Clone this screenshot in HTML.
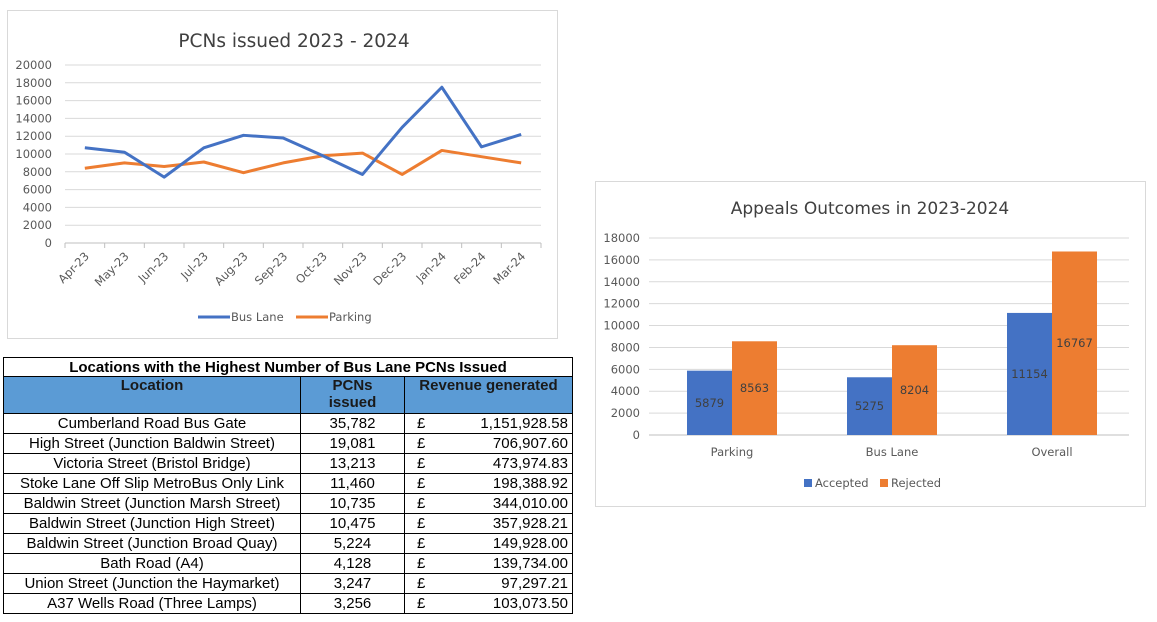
<!DOCTYPE html>
<html><head><meta charset="utf-8"><style>
body{margin:0;width:1157px;height:622px;background:#fff;position:relative;overflow:hidden;font-family:"Liberation Sans",sans-serif}
svg text{font-family:"DejaVu Sans","Liberation Sans",sans-serif}
table{position:absolute;left:3px;top:357px;width:570px;border-collapse:collapse;font-size:15px;color:#000}
td,th{border:1.5px solid #000;padding:0 4px;height:18.4px;line-height:17px}
td{height:19px}
th{font-weight:bold}
.hd th{background:#5b9bd5;color:#1a1a1a;vertical-align:top;line-height:17px}
.c{text-align:center}.r{text-align:right}
</style></head><body>
<svg id="lc" width="1157" height="622" style="position:absolute;left:0;top:0">
<rect x="7.5" y="10.5" width="550" height="328" fill="#fff" stroke="#d9d9d9"/>
<text x="294" y="47" font-size="18.5" fill="#404040" text-anchor="middle">PCNs issued 2023 - 2024</text>
<rect x="595.5" y="181.5" width="550" height="325" fill="#fff" stroke="#d9d9d9"/>
<text x="870" y="214" font-size="17" fill="#404040" text-anchor="middle">Appeals Outcomes in 2023-2024</text>
</svg>
<table>
<tr><th colspan="3" class="c">Locations with the Highest Number of Bus Lane PCNs Issued</th></tr>
<tr class="hd" style="height:37px"><th style="width:288px">Location</th><th style="width:95px">PCNs<br>issued</th><th>Revenue generated</th></tr>
<tbody id="tb"></tbody>
</table>
<script>
const months=["Apr-23","May-23","Jun-23","Jul-23","Aug-23","Sep-23","Oct-23","Nov-23","Dec-23","Jan-24","Feb-24","Mar-24"];
const busLane=[10700,10200,7400,10700,12100,11800,9800,7700,13000,17500,10800,12200];
const parking=[8400,9000,8600,9100,7900,9000,9800,10100,7700,10400,9700,9000];
const lineTicks=[0,2000,4000,6000,8000,10000,12000,14000,16000,18000,20000];
const barCats=["Parking","Bus Lane","Overall"];
const accepted=[5879,5275,11154];
const rejected=[8563,8204,16767];
const barTicks=[0,2000,4000,6000,8000,10000,12000,14000,16000,18000];
const locs=["Cumberland Road Bus Gate","High Street (Junction Baldwin Street)","Victoria Street (Bristol Bridge)","Stoke Lane Off Slip MetroBus Only Link","Baldwin Street (Junction Marsh Street)","Baldwin Street (Junction High Street)","Baldwin Street (Junction Broad Quay)","Bath Road (A4)","Union Street (Junction the Haymarket)","A37 Wells Road (Three Lamps)"];
const pcns=["35,782","19,081","13,213","11,460","10,735","10,475","5,224","4,128","3,247","3,256"];
const revenue=["1,151,928.58","706,907.60","473,974.83","198,388.92","344,010.00","357,928.21","149,928.00","139,734.00","97,297.21","103,073.50"];

const NS="http://www.w3.org/2000/svg";
const svg=document.getElementById('lc');
function mk(t,a,txt){const e=document.createElementNS(NS,t);for(const k in a)e.setAttribute(k,a[k]);if(txt!=null)e.textContent=txt;svg.appendChild(e);return e;}
const L={x0:65,x1:541,y0:243,y1:65,max:20000};
const ly=v=>L.y0-(v/L.max)*(L.y0-L.y1);
const step=(L.x1-L.x0)/months.length;
const lx=i=>L.x0+step*(i+0.5);
lineTicks.forEach(t=>{
 const g=mk('line',{x1:L.x0,x2:L.x1,y1:ly(t),y2:ly(t),stroke:t===0?'#bfbfbf':'#d9d9d9','stroke-width':1});
 
 const tx=mk('text',{x:52,y:ly(t)+4,'font-size':11.5,fill:'#595959','text-anchor':'end'},t);
 
});
months.forEach((m,i)=>{
 const tk=mk('line',{x1:L.x0+step*i,x2:L.x0+step*i,y1:L.y0,y2:L.y0+5,stroke:'#bfbfbf'});
 
 const x=lx(i)+5,y=L.y0+14;
 const tx=mk('text',{x:x,y:y,'font-size':11.5,fill:'#595959','text-anchor':'end',transform:`rotate(-45 ${x} ${y})`},m);
 
});
mk('line',{x1:L.x1,x2:L.x1,y1:L.y0,y2:L.y0+5,stroke:'#bfbfbf'});
function series(d,c,n){const p=mk('polyline',{points:d.map((v,i)=>lx(i)+','+ly(v)).join(' '),fill:'none',stroke:c,'stroke-width':3,'stroke-linejoin':'round'});
 }
series(parking,'#ed7d31','parking-line');
series(busLane,'#4472c4','bus-lane-line');
[['Bus Lane','#4472c4',198],['Parking','#ed7d31',296]].forEach(([n,c,x])=>{
 const l=mk('line',{x1:x,x2:x+32,y1:317,y2:317,stroke:c,'stroke-width':3});
 
 const t=mk('text',{x:x+33,y:321,'font-size':11.5,fill:'#595959'},n);
 
});
const B={x0:649,x1:1129,y0:435,y1:238,max:18000};
const by=v=>B.y0-(v/B.max)*(B.y0-B.y1);
const bstep=(B.x1-B.x0)/barCats.length;
const bc=i=>B.x0+bstep*(i+0.5)+3;
const bw=45;
barTicks.forEach(t=>{
 const g=mk('line',{x1:B.x0,x2:B.x1,y1:by(t),y2:by(t),stroke:t===0?'#bfbfbf':'#d9d9d9'});
 
 const tx=mk('text',{x:640,y:by(t)+4,'font-size':11.5,fill:'#595959','text-anchor':'end'},t);
 
});
barCats.forEach((c,i)=>{
 const a=mk('rect',{x:bc(i)-bw,y:by(accepted[i]),width:bw,height:B.y0-by(accepted[i]),fill:'#4472c4'});
 
 const r=mk('rect',{x:bc(i),y:by(rejected[i]),width:bw,height:B.y0-by(rejected[i]),fill:'#ed7d31'});
 
 const at=mk('text',{x:bc(i)-bw/2,y:(by(accepted[i])+B.y0)/2+4,'font-size':11.5,fill:'#404040','text-anchor':'middle'},accepted[i]);
 
 const rt=mk('text',{x:bc(i)+bw/2,y:(by(rejected[i])+B.y0)/2+4,'font-size':11.5,fill:'#404040','text-anchor':'middle'},rejected[i]);
 
 const cl=mk('text',{x:bc(i),y:456,'font-size':11.5,fill:'#595959','text-anchor':'middle'},c);
 
});
[['Accepted','#4472c4',804],['Rejected','#ed7d31',880]].forEach(([n,c,x])=>{
 const s=mk('rect',{x:x,y:479,width:8,height:8,fill:c});
 
 const t=mk('text',{x:x+11,y:487,'font-size':11.5,fill:'#595959'},n);
 
});
const tb=document.getElementById('tb');
locs.forEach((l,i)=>{
 const tr=document.createElement('tr');
 
 
 tr.innerHTML=`<td class="c">${l}</td><td class="c">${pcns[i]}</td><td><span style="float:left;padding-left:8px">£</span><span style="float:right">${revenue[i]}</span></td>`;
 tb.appendChild(tr);
});
</script>
</body></html>
